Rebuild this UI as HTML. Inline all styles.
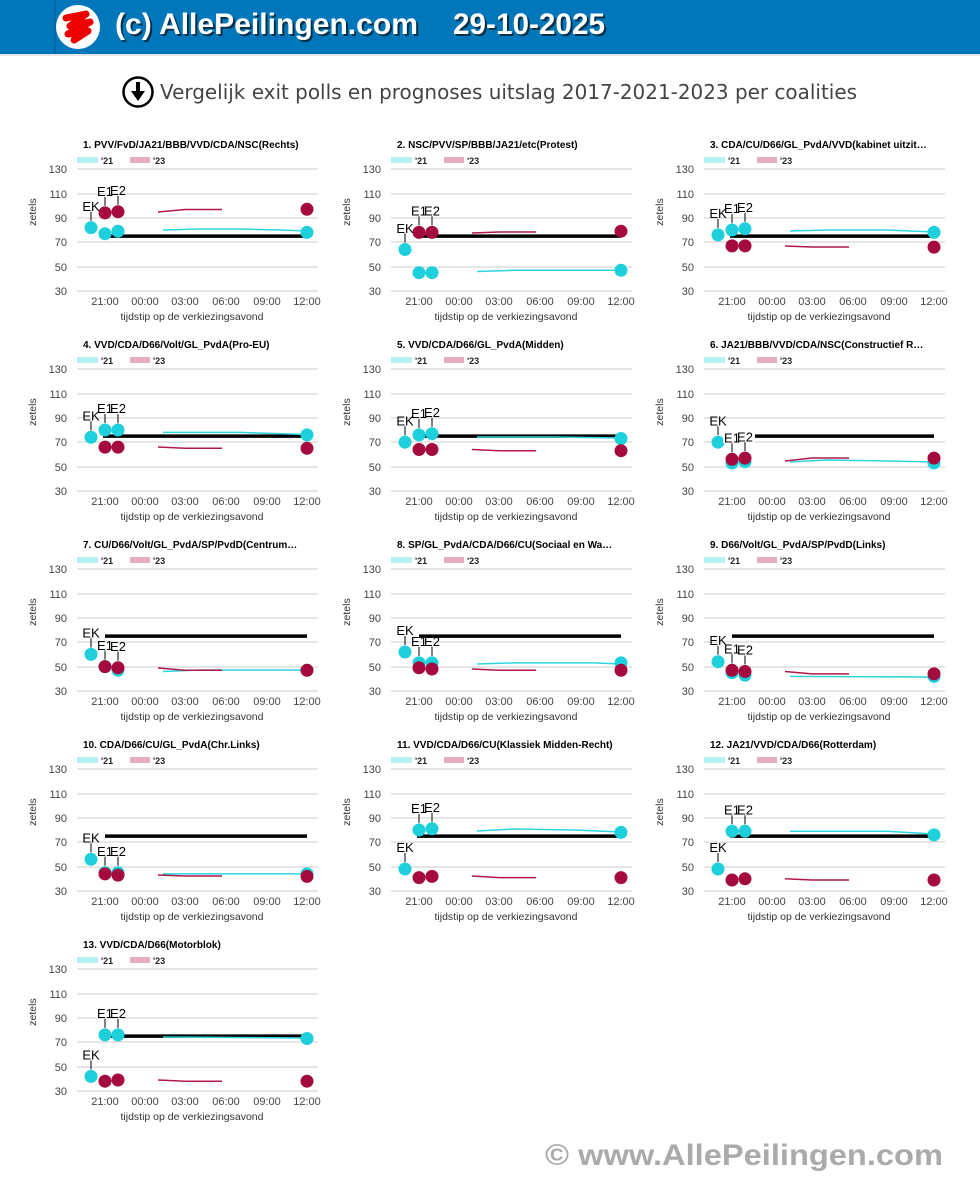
<!DOCTYPE html>
<html><head><meta charset="utf-8"><style>
html,body{margin:0;padding:0;background:#fff;width:980px;height:1177px;overflow:hidden}
svg text{font-family:"Liberation Sans","DejaVu Sans",sans-serif}
.t{font-size:10px;font-weight:bold;fill:#000}
.lg{font-size:9px;font-weight:bold;fill:#222}
.yl{font-size:11px;fill:#444;text-anchor:end}
.xl{font-size:11px;fill:#444;text-anchor:middle}
.at{font-size:10.5px;fill:#333;text-anchor:middle}
.lb{font-size:13px;fill:#000;text-anchor:middle}
.g{stroke:#ccc;stroke-width:1}
.c{fill:#1dd0dc}.r{fill:#a50a3f}
.l21{fill:none;stroke:#2dd5e0;stroke-width:1.5}
.l23{fill:none;stroke:#b0184c;stroke-width:1.5}
.bk{stroke:#000;stroke-width:3.5}
.ld{stroke:#000;stroke-width:1}
</style></head><body>
<svg width="980" height="1177" viewBox="0 0 980 1177" xmlns="http://www.w3.org/2000/svg">
<rect x="0" y="0" width="980" height="54" fill="#0077bb"/>
<rect x="0" y="54" width="980" height="2" fill="#e6e6e6"/>
<line x1="55" y1="0" x2="55" y2="54" stroke="#0a5a90"/>
<circle cx="78" cy="27" r="22" fill="#fff"/>
<path d="M66 18 L86 14 L70 26 L90 22 L68 34 L88 31 L74 40" fill="none" stroke="#ee0000" stroke-width="7" stroke-linejoin="round" stroke-linecap="round"/>
<g font-family="Liberation Sans, sans-serif" font-weight="bold" font-size="30">
<text x="117" y="36" fill="#000" opacity="0.6" textLength="303" lengthAdjust="spacingAndGlyphs">(c) AllePeilingen.com</text>
<text x="115" y="34" fill="#fff" textLength="303" lengthAdjust="spacingAndGlyphs">(c) AllePeilingen.com</text>
<text x="455" y="36" fill="#000" opacity="0.6" textLength="152" lengthAdjust="spacingAndGlyphs">29-10-2025</text>
<text x="453" y="34" fill="#fff" textLength="152" lengthAdjust="spacingAndGlyphs">29-10-2025</text>
</g>
<circle cx="138" cy="92" r="14.5" fill="#fff" stroke="#000" stroke-width="2.5"/>
<rect x="136" y="82" width="4" height="10" fill="#000"/>
<path d="M131 91 L145 91 L138 101 Z" fill="#000"/>
<text x="160" y="99" font-size="20" fill="#444" style="font-family:'DejaVu Sans',sans-serif" textLength="697" lengthAdjust="spacingAndGlyphs">Vergelijk exit polls en prognoses uitslag 2017-2021-2023 per coalities</text>

<defs>
<g id="ax">
<line class="g" x1="77" y1="169" x2="318" y2="169"/><line class="g" x1="77" y1="194" x2="318" y2="194"/><line class="g" x1="77" y1="218" x2="318" y2="218"/><line class="g" x1="77" y1="242" x2="318" y2="242"/><line class="g" x1="77" y1="267" x2="318" y2="267"/><line class="g" x1="77" y1="291" x2="318" y2="291"/>
<rect x="77" y="157" width="21" height="6" fill="#b5f0f4"/><rect x="130" y="157" width="20" height="6" fill="#e6adc2"/>
</g>
</defs>

<g id="c1">
<use href="#ax"/>
<text class="t" x="83" y="148">1. PVV/FvD/JA21/BBB/VVD/CDA/NSC(Rechts)</text>
<text class="lg" x="101" y="164">'21</text><text class="lg" x="153" y="164">'23</text>
<text class="yl" x="67" y="173">130</text><text class="yl" x="67" y="198">110</text><text class="yl" x="67" y="222">90</text><text class="yl" x="67" y="246">70</text><text class="yl" x="67" y="271">50</text><text class="yl" x="67" y="295">30</text>
<text class="xl" x="105" y="305">21:00</text><text class="xl" x="145" y="305">00:00</text><text class="xl" x="185" y="305">03:00</text><text class="xl" x="226" y="305">06:00</text><text class="xl" x="267" y="305">09:00</text><text class="xl" x="307" y="305">12:00</text>
<text class="at" x="192" y="320">tijdstip op de verkiezingsavond</text>
<text class="at" transform="translate(36,212) rotate(-90)">zetels</text>
<line class="bk" x1="103" y1="236.1" x2="307" y2="236.1"/>
<path class="l21" d="M163 230 L200 229 L240 229 L280 230 L307 231"/><path class="l23" d="M158 212 L185 209.5 L222 209.5"/>
<circle class="c" cx="91" cy="227.6" r="6.5"/><circle class="c" cx="105" cy="233.7" r="6.5"/><circle class="c" cx="118" cy="231.2" r="6.5"/><circle class="c" cx="307" cy="232.4" r="6.5"/>
<circle class="r" cx="105" cy="212.9" r="6.5"/><circle class="r" cx="118" cy="211.7" r="6.5"/><circle class="r" cx="307" cy="209.3" r="6.5"/>
<line class="ld" x1="91" y1="220.6" x2="91" y2="211.6"/><text class="lb" x="91" y="211">EK</text>
<line class="ld" x1="105" y1="205.9" x2="105" y2="196.9"/><text class="lb" x="105" y="196">E1</text>
<line class="ld" x1="118" y1="204.7" x2="118" y2="195.7"/><text class="lb" x="118" y="195">E2</text>
</g>

<g transform="translate(314,0)">
<use href="#ax"/>
<text class="t" x="83" y="148">2. NSC/PVV/SP/BBB/JA21/etc(Protest)</text>
<text class="lg" x="101" y="164">'21</text><text class="lg" x="153" y="164">'23</text>
<text class="yl" x="67" y="173">130</text><text class="yl" x="67" y="198">110</text><text class="yl" x="67" y="222">90</text><text class="yl" x="67" y="246">70</text><text class="yl" x="67" y="271">50</text><text class="yl" x="67" y="295">30</text>
<text class="xl" x="105" y="305">21:00</text><text class="xl" x="145" y="305">00:00</text><text class="xl" x="185" y="305">03:00</text><text class="xl" x="226" y="305">06:00</text><text class="xl" x="267" y="305">09:00</text><text class="xl" x="307" y="305">12:00</text>
<text class="at" x="192" y="320">tijdstip op de verkiezingsavond</text>
<text class="at" transform="translate(36,212) rotate(-90)">zetels</text>
<line class="bk" x1="103" y1="236.1" x2="307" y2="236.1"/>
<path class="l21" d="M163 271.5 L200 270.3 L307 270.3"/><path class="l23" d="M158 233 L185 232 L222 232"/>
<circle class="c" cx="91" cy="249.5" r="6.5"/><circle class="c" cx="105" cy="272.7" r="6.5"/><circle class="c" cx="118" cy="272.7" r="6.5"/><circle class="c" cx="307" cy="270.3" r="6.5"/>
<circle class="r" cx="105" cy="232.4" r="6.5"/><circle class="r" cx="118" cy="232.4" r="6.5"/><circle class="r" cx="307" cy="231.2" r="6.5"/>
<line class="ld" x1="91" y1="242.5" x2="91" y2="233.5"/><text class="lb" x="91" y="233">EK</text>
<line class="ld" x1="105" y1="225.4" x2="105" y2="216.4"/><text class="lb" x="105" y="215.5">E1</text>
<line class="ld" x1="118" y1="225.4" x2="118" y2="216.4"/><text class="lb" x="118" y="215.5">E2</text>
</g>

<g transform="translate(627,0)">
<use href="#ax"/>
<text class="t" x="83" y="148">3. CDA/CU/D66/GL_PvdA/VVD(kabinet uitzit…</text>
<text class="lg" x="101" y="164">'21</text><text class="lg" x="153" y="164">'23</text>
<text class="yl" x="67" y="173">130</text><text class="yl" x="67" y="198">110</text><text class="yl" x="67" y="222">90</text><text class="yl" x="67" y="246">70</text><text class="yl" x="67" y="271">50</text><text class="yl" x="67" y="295">30</text>
<text class="xl" x="105" y="305">21:00</text><text class="xl" x="145" y="305">00:00</text><text class="xl" x="185" y="305">03:00</text><text class="xl" x="226" y="305">06:00</text><text class="xl" x="267" y="305">09:00</text><text class="xl" x="307" y="305">12:00</text>
<text class="at" x="192" y="320">tijdstip op de verkiezingsavond</text>
<text class="at" transform="translate(36,212) rotate(-90)">zetels</text>
<line class="bk" x1="103" y1="236.1" x2="307" y2="236.1"/>
<path class="l21" d="M163 231 L200 230 L260 230 L307 232"/><path class="l23" d="M158 246 L185 247 L222 247"/>
<circle class="c" cx="91" cy="234.9" r="6.5"/><circle class="c" cx="105" cy="230" r="6.5"/><circle class="c" cx="118" cy="228.8" r="6.5"/><circle class="c" cx="307" cy="232.4" r="6.5"/>
<circle class="r" cx="105" cy="245.9" r="6.5"/><circle class="r" cx="118" cy="245.9" r="6.5"/><circle class="r" cx="307" cy="247.1" r="6.5"/>
<line class="ld" x1="91" y1="227.9" x2="91" y2="218.9"/><text class="lb" x="91" y="218">EK</text>
<line class="ld" x1="105" y1="223" x2="105" y2="214"/><text class="lb" x="105" y="213">E1</text>
<line class="ld" x1="118" y1="221.8" x2="118" y2="212.8"/><text class="lb" x="118" y="212">E2</text>
</g>

<g transform="translate(0,200)">
<use href="#ax"/>
<text class="t" x="83" y="148">4. VVD/CDA/D66/Volt/GL_PvdA(Pro-EU)</text>
<text class="lg" x="101" y="164">'21</text><text class="lg" x="153" y="164">'23</text>
<text class="yl" x="67" y="173">130</text><text class="yl" x="67" y="198">110</text><text class="yl" x="67" y="222">90</text><text class="yl" x="67" y="246">70</text><text class="yl" x="67" y="271">50</text><text class="yl" x="67" y="295">30</text>
<text class="xl" x="105" y="305">21:00</text><text class="xl" x="145" y="305">00:00</text><text class="xl" x="185" y="305">03:00</text><text class="xl" x="226" y="305">06:00</text><text class="xl" x="267" y="305">09:00</text><text class="xl" x="307" y="305">12:00</text>
<text class="at" x="192" y="320">tijdstip op de verkiezingsavond</text>
<text class="at" transform="translate(36,212) rotate(-90)">zetels</text>
<line class="bk" x1="103" y1="236.1" x2="307" y2="236.1"/>
<path class="l21" d="M163 232.4 L240 232.4 L307 234.5"/><path class="l23" d="M158 247 L185 248.3 L222 248.3"/>
<circle class="c" cx="91" cy="237.3" r="6.5"/><circle class="c" cx="105" cy="230" r="6.5"/><circle class="c" cx="118" cy="230" r="6.5"/><circle class="c" cx="307" cy="234.9" r="6.5"/>
<circle class="r" cx="105" cy="247.1" r="6.5"/><circle class="r" cx="118" cy="247.1" r="6.5"/><circle class="r" cx="307" cy="248.3" r="6.5"/>
<line class="ld" x1="91" y1="230.3" x2="91" y2="221.3"/><text class="lb" x="91" y="220.5">EK</text>
<line class="ld" x1="105" y1="223" x2="105" y2="214"/><text class="lb" x="105" y="213">E1</text>
<line class="ld" x1="118" y1="223" x2="118" y2="214"/><text class="lb" x="118" y="213">E2</text>
</g>

<g transform="translate(314,200)">
<use href="#ax"/>
<text class="t" x="83" y="148">5. VVD/CDA/D66/GL_PvdA(Midden)</text>
<text class="lg" x="101" y="164">'21</text><text class="lg" x="153" y="164">'23</text>
<text class="yl" x="67" y="173">130</text><text class="yl" x="67" y="198">110</text><text class="yl" x="67" y="222">90</text><text class="yl" x="67" y="246">70</text><text class="yl" x="67" y="271">50</text><text class="yl" x="67" y="295">30</text>
<text class="xl" x="105" y="305">21:00</text><text class="xl" x="145" y="305">00:00</text><text class="xl" x="185" y="305">03:00</text><text class="xl" x="226" y="305">06:00</text><text class="xl" x="267" y="305">09:00</text><text class="xl" x="307" y="305">12:00</text>
<text class="at" x="192" y="320">tijdstip op de verkiezingsavond</text>
<text class="at" transform="translate(36,212) rotate(-90)">zetels</text>
<line class="bk" x1="103" y1="236.1" x2="307" y2="236.1"/>
<path class="l21" d="M163 237 L240 237 L307 238"/><path class="l23" d="M158 249.5 L185 250.7 L222 250.7"/>
<circle class="c" cx="91" cy="242.2" r="6.5"/><circle class="c" cx="105" cy="234.9" r="6.5"/><circle class="c" cx="118" cy="233.7" r="6.5"/><circle class="c" cx="307" cy="238.5" r="6.5"/>
<circle class="r" cx="105" cy="249.5" r="6.5"/><circle class="r" cx="118" cy="249.5" r="6.5"/><circle class="r" cx="307" cy="250.7" r="6.5"/>
<line class="ld" x1="91" y1="235.2" x2="91" y2="226.2"/><text class="lb" x="91" y="225.5">EK</text>
<line class="ld" x1="105" y1="227.9" x2="105" y2="218.9"/><text class="lb" x="105" y="218">E1</text>
<line class="ld" x1="118" y1="226.7" x2="118" y2="217.7"/><text class="lb" x="118" y="217">E2</text>
</g>

<g transform="translate(627,200)">
<use href="#ax"/>
<text class="t" x="83" y="148">6. JA21/BBB/VVD/CDA/NSC(Constructief R…</text>
<text class="lg" x="101" y="164">'21</text><text class="lg" x="153" y="164">'23</text>
<text class="yl" x="67" y="173">130</text><text class="yl" x="67" y="198">110</text><text class="yl" x="67" y="222">90</text><text class="yl" x="67" y="246">70</text><text class="yl" x="67" y="271">50</text><text class="yl" x="67" y="295">30</text>
<text class="xl" x="105" y="305">21:00</text><text class="xl" x="145" y="305">00:00</text><text class="xl" x="185" y="305">03:00</text><text class="xl" x="226" y="305">06:00</text><text class="xl" x="267" y="305">09:00</text><text class="xl" x="307" y="305">12:00</text>
<text class="at" x="192" y="320">tijdstip op de verkiezingsavond</text>
<text class="at" transform="translate(36,212) rotate(-90)">zetels</text>
<line class="bk" x1="103" y1="236.1" x2="307" y2="236.1"/>
<path class="l21" d="M163 262 L200 260 L260 261 L307 262"/><path class="l23" d="M158 261 L185 258 L222 258"/>
<circle class="c" cx="91" cy="242.2" r="6.5"/><circle class="c" cx="105" cy="262.9" r="6.5"/><circle class="c" cx="118" cy="261.7" r="6.5"/><circle class="c" cx="307" cy="262.9" r="6.5"/>
<circle class="r" cx="105" cy="259.3" r="6.5"/><circle class="r" cx="118" cy="258.1" r="6.5"/><circle class="r" cx="307" cy="258.1" r="6.5"/>
<line class="ld" x1="91" y1="235.2" x2="91" y2="226.2"/><text class="lb" x="91" y="225.5">EK</text>
<rect x="96" y="229" width="32" height="14" fill="#fff"/>
<line class="ld" x1="105" y1="252.3" x2="105" y2="243.3"/><text class="lb" x="105" y="242.5">E1</text>
<line class="ld" x1="118" y1="251.1" x2="118" y2="242.1"/><text class="lb" x="118" y="241.5">E2</text>
</g>

<g transform="translate(0,400)">
<use href="#ax"/>
<text class="t" x="83" y="148">7. CU/D66/Volt/GL_PvdA/SP/PvdD(Centrum…</text>
<text class="lg" x="101" y="164">'21</text><text class="lg" x="153" y="164">'23</text>
<text class="yl" x="67" y="173">130</text><text class="yl" x="67" y="198">110</text><text class="yl" x="67" y="222">90</text><text class="yl" x="67" y="246">70</text><text class="yl" x="67" y="271">50</text><text class="yl" x="67" y="295">30</text>
<text class="xl" x="105" y="305">21:00</text><text class="xl" x="145" y="305">00:00</text><text class="xl" x="185" y="305">03:00</text><text class="xl" x="226" y="305">06:00</text><text class="xl" x="267" y="305">09:00</text><text class="xl" x="307" y="305">12:00</text>
<text class="at" x="192" y="320">tijdstip op de verkiezingsavond</text>
<text class="at" transform="translate(36,212) rotate(-90)">zetels</text>
<line class="bk" x1="105" y1="236.1" x2="307" y2="236.1"/>
<path class="l21" d="M163 271.5 L200 270 L307 270"/><path class="l23" d="M158 268 L185 270.3 L222 270.3"/>
<circle class="c" cx="91" cy="254.4" r="6.5"/><circle class="c" cx="105" cy="266.6" r="6.5"/><circle class="c" cx="118" cy="270.3" r="6.5"/><circle class="c" cx="307" cy="270.3" r="6.5"/>
<circle class="r" cx="105" cy="266.6" r="6.5"/><circle class="r" cx="118" cy="267.8" r="6.5"/><circle class="r" cx="307" cy="270.3" r="6.5"/>
<line class="ld" x1="91" y1="247.4" x2="91" y2="238.4"/><text class="lb" x="91" y="237.5">EK</text>
<line class="ld" x1="105" y1="259.6" x2="105" y2="250.6"/><text class="lb" x="105" y="250">E1</text>
<line class="ld" x1="118" y1="260.8" x2="118" y2="251.8"/><text class="lb" x="118" y="251">E2</text>
</g>

<g transform="translate(314,400)">
<use href="#ax"/>
<text class="t" x="83" y="148">8. SP/GL_PvdA/CDA/D66/CU(Sociaal en Wa…</text>
<text class="lg" x="101" y="164">'21</text><text class="lg" x="153" y="164">'23</text>
<text class="yl" x="67" y="173">130</text><text class="yl" x="67" y="198">110</text><text class="yl" x="67" y="222">90</text><text class="yl" x="67" y="246">70</text><text class="yl" x="67" y="271">50</text><text class="yl" x="67" y="295">30</text>
<text class="xl" x="105" y="305">21:00</text><text class="xl" x="145" y="305">00:00</text><text class="xl" x="185" y="305">03:00</text><text class="xl" x="226" y="305">06:00</text><text class="xl" x="267" y="305">09:00</text><text class="xl" x="307" y="305">12:00</text>
<text class="at" x="192" y="320">tijdstip op de verkiezingsavond</text>
<text class="at" transform="translate(36,212) rotate(-90)">zetels</text>
<line class="bk" x1="105" y1="236.1" x2="307" y2="236.1"/>
<path class="l21" d="M163 264 L200 262.9 L280 262.9 L307 264"/><path class="l23" d="M158 269 L185 270.3 L222 270.3"/>
<circle class="c" cx="91" cy="252" r="6.5"/><circle class="c" cx="105" cy="262.9" r="6.5"/><circle class="c" cx="118" cy="262.9" r="6.5"/><circle class="c" cx="307" cy="262.9" r="6.5"/>
<circle class="r" cx="105" cy="267.8" r="6.5"/><circle class="r" cx="118" cy="269" r="6.5"/><circle class="r" cx="307" cy="270.3" r="6.5"/>
<line class="ld" x1="91" y1="245" x2="91" y2="236"/><text class="lb" x="91" y="235">EK</text>
<line class="ld" x1="105" y1="255.9" x2="105" y2="246.9"/><text class="lb" x="105" y="246">E1</text>
<line class="ld" x1="118" y1="255.9" x2="118" y2="246.9"/><text class="lb" x="118" y="246">E2</text>
</g>

<g transform="translate(627,400)">
<use href="#ax"/>
<text class="t" x="83" y="148">9. D66/Volt/GL_PvdA/SP/PvdD(Links)</text>
<text class="lg" x="101" y="164">'21</text><text class="lg" x="153" y="164">'23</text>
<text class="yl" x="67" y="173">130</text><text class="yl" x="67" y="198">110</text><text class="yl" x="67" y="222">90</text><text class="yl" x="67" y="246">70</text><text class="yl" x="67" y="271">50</text><text class="yl" x="67" y="295">30</text>
<text class="xl" x="105" y="305">21:00</text><text class="xl" x="145" y="305">00:00</text><text class="xl" x="185" y="305">03:00</text><text class="xl" x="226" y="305">06:00</text><text class="xl" x="267" y="305">09:00</text><text class="xl" x="307" y="305">12:00</text>
<text class="at" x="192" y="320">tijdstip op de verkiezingsavond</text>
<text class="at" transform="translate(36,212) rotate(-90)">zetels</text>
<line class="bk" x1="105" y1="236.1" x2="307" y2="236.1"/>
<path class="l21" d="M163 276.4 L307 277"/><path class="l23" d="M158 271.5 L185 273.9 L222 273.9"/>
<circle class="c" cx="91" cy="261.7" r="6.5"/><circle class="c" cx="105" cy="272.7" r="6.5"/><circle class="c" cx="118" cy="275.1" r="6.5"/><circle class="c" cx="307" cy="276.4" r="6.5"/>
<circle class="r" cx="105" cy="270.3" r="6.5"/><circle class="r" cx="118" cy="271.5" r="6.5"/><circle class="r" cx="307" cy="273.9" r="6.5"/>
<line class="ld" x1="91" y1="254.7" x2="91" y2="245.7"/><text class="lb" x="91" y="245">EK</text>
<line class="ld" x1="105" y1="263.3" x2="105" y2="254.3"/><text class="lb" x="105" y="253.5">E1</text>
<line class="ld" x1="118" y1="264.5" x2="118" y2="255.5"/><text class="lb" x="118" y="254.5">E2</text>
</g>

<g transform="translate(0,600)">
<use href="#ax"/>
<text class="t" x="83" y="148">10. CDA/D66/CU/GL_PvdA(Chr.Links)</text>
<text class="lg" x="101" y="164">'21</text><text class="lg" x="153" y="164">'23</text>
<text class="yl" x="67" y="173">130</text><text class="yl" x="67" y="198">110</text><text class="yl" x="67" y="222">90</text><text class="yl" x="67" y="246">70</text><text class="yl" x="67" y="271">50</text><text class="yl" x="67" y="295">30</text>
<text class="xl" x="105" y="305">21:00</text><text class="xl" x="145" y="305">00:00</text><text class="xl" x="185" y="305">03:00</text><text class="xl" x="226" y="305">06:00</text><text class="xl" x="267" y="305">09:00</text><text class="xl" x="307" y="305">12:00</text>
<text class="at" x="192" y="320">tijdstip op de verkiezingsavond</text>
<text class="at" transform="translate(36,212) rotate(-90)">zetels</text>
<line class="bk" x1="105" y1="236.1" x2="307" y2="236.1"/>
<path class="l21" d="M163 273.9 L307 273.9"/><path class="l23" d="M158 275 L185 276 L222 276"/>
<circle class="c" cx="91" cy="259.3" r="6.5"/><circle class="c" cx="105" cy="272.7" r="6.5"/><circle class="c" cx="118" cy="272.7" r="6.5"/><circle class="c" cx="307" cy="273.9" r="6.5"/>
<circle class="r" cx="105" cy="273.9" r="6.5"/><circle class="r" cx="118" cy="275.1" r="6.5"/><circle class="r" cx="307" cy="276.4" r="6.5"/>
<line class="ld" x1="91" y1="252.3" x2="91" y2="243.3"/><text class="lb" x="91" y="242.5">EK</text>
<line class="ld" x1="105" y1="265.7" x2="105" y2="256.7"/><text class="lb" x="105" y="256">E1</text>
<line class="ld" x1="118" y1="265.7" x2="118" y2="256.7"/><text class="lb" x="118" y="256">E2</text>
</g>

<g transform="translate(314,600)">
<use href="#ax"/>
<text class="t" x="83" y="148">11. VVD/CDA/D66/CU(Klassiek Midden-Recht)</text>
<text class="lg" x="101" y="164">'21</text><text class="lg" x="153" y="164">'23</text>
<text class="yl" x="67" y="173">130</text><text class="yl" x="67" y="198">110</text><text class="yl" x="67" y="222">90</text><text class="yl" x="67" y="246">70</text><text class="yl" x="67" y="271">50</text><text class="yl" x="67" y="295">30</text>
<text class="xl" x="105" y="305">21:00</text><text class="xl" x="145" y="305">00:00</text><text class="xl" x="185" y="305">03:00</text><text class="xl" x="226" y="305">06:00</text><text class="xl" x="267" y="305">09:00</text><text class="xl" x="307" y="305">12:00</text>
<text class="at" x="192" y="320">tijdstip op de verkiezingsavond</text>
<text class="at" transform="translate(36,212) rotate(-90)">zetels</text>
<line class="bk" x1="103" y1="236.1" x2="307" y2="236.1"/>
<path class="l21" d="M163 231 L200 229 L260 230 L307 232"/><path class="l23" d="M158 276 L185 277.6 L222 277.6"/>
<circle class="c" cx="91" cy="269" r="6.5"/><circle class="c" cx="105" cy="230" r="6.5"/><circle class="c" cx="118" cy="228.8" r="6.5"/><circle class="c" cx="307" cy="232.4" r="6.5"/>
<circle class="r" cx="105" cy="277.6" r="6.5"/><circle class="r" cx="118" cy="276.4" r="6.5"/><circle class="r" cx="307" cy="277.6" r="6.5"/>
<line class="ld" x1="91" y1="262" x2="91" y2="253"/><text class="lb" x="91" y="252">EK</text>
<line class="ld" x1="105" y1="223" x2="105" y2="214"/><text class="lb" x="105" y="213">E1</text>
<line class="ld" x1="118" y1="221.8" x2="118" y2="212.8"/><text class="lb" x="118" y="212">E2</text>
</g>

<g transform="translate(627,600)">
<use href="#ax"/>
<text class="t" x="83" y="148">12. JA21/VVD/CDA/D66(Rotterdam)</text>
<text class="lg" x="101" y="164">'21</text><text class="lg" x="153" y="164">'23</text>
<text class="yl" x="67" y="173">130</text><text class="yl" x="67" y="198">110</text><text class="yl" x="67" y="222">90</text><text class="yl" x="67" y="246">70</text><text class="yl" x="67" y="271">50</text><text class="yl" x="67" y="295">30</text>
<text class="xl" x="105" y="305">21:00</text><text class="xl" x="145" y="305">00:00</text><text class="xl" x="185" y="305">03:00</text><text class="xl" x="226" y="305">06:00</text><text class="xl" x="267" y="305">09:00</text><text class="xl" x="307" y="305">12:00</text>
<text class="at" x="192" y="320">tijdstip op de verkiezingsavond</text>
<text class="at" transform="translate(36,212) rotate(-90)">zetels</text>
<line class="bk" x1="103" y1="236.1" x2="307" y2="236.1"/>
<path class="l21" d="M163 231.2 L260 231.2 L307 234"/><path class="l23" d="M158 278.8 L185 280 L222 280"/>
<circle class="c" cx="91" cy="269" r="6.5"/><circle class="c" cx="105" cy="231.2" r="6.5"/><circle class="c" cx="118" cy="231.2" r="6.5"/><circle class="c" cx="307" cy="234.9" r="6.5"/>
<circle class="r" cx="105" cy="280" r="6.5"/><circle class="r" cx="118" cy="278.8" r="6.5"/><circle class="r" cx="307" cy="280" r="6.5"/>
<line class="ld" x1="91" y1="262" x2="91" y2="253"/><text class="lb" x="91" y="252">EK</text>
<line class="ld" x1="105" y1="224.2" x2="105" y2="215.2"/><text class="lb" x="105" y="214.5">E1</text>
<line class="ld" x1="118" y1="224.2" x2="118" y2="215.2"/><text class="lb" x="118" y="214.5">E2</text>
</g>

<g transform="translate(0,800)">
<use href="#ax"/>
<text class="t" x="83" y="148">13. VVD/CDA/D66(Motorblok)</text>
<text class="lg" x="101" y="164">'21</text><text class="lg" x="153" y="164">'23</text>
<text class="yl" x="67" y="173">130</text><text class="yl" x="67" y="198">110</text><text class="yl" x="67" y="222">90</text><text class="yl" x="67" y="246">70</text><text class="yl" x="67" y="271">50</text><text class="yl" x="67" y="295">30</text>
<text class="xl" x="105" y="305">21:00</text><text class="xl" x="145" y="305">00:00</text><text class="xl" x="185" y="305">03:00</text><text class="xl" x="226" y="305">06:00</text><text class="xl" x="267" y="305">09:00</text><text class="xl" x="307" y="305">12:00</text>
<text class="at" x="192" y="320">tijdstip op de verkiezingsavond</text>
<text class="at" transform="translate(36,212) rotate(-90)">zetels</text>
<line class="bk" x1="103" y1="236.1" x2="307" y2="236.1"/>
<path class="l21" d="M163 237 L307 238"/><path class="l23" d="M158 280 L185 281.2 L222 281.2"/>
<circle class="c" cx="91" cy="276.4" r="6.5"/><circle class="c" cx="105" cy="234.9" r="6.5"/><circle class="c" cx="118" cy="234.9" r="6.5"/><circle class="c" cx="307" cy="238.5" r="6.5"/>
<circle class="r" cx="105" cy="281.2" r="6.5"/><circle class="r" cx="118" cy="280" r="6.5"/><circle class="r" cx="307" cy="281.2" r="6.5"/>
<line class="ld" x1="91" y1="269.4" x2="91" y2="260.4"/><text class="lb" x="91" y="259.5">EK</text>
<line class="ld" x1="105" y1="227.9" x2="105" y2="218.9"/><text class="lb" x="105" y="218">E1</text>
<line class="ld" x1="118" y1="227.9" x2="118" y2="218.9"/><text class="lb" x="118" y="218">E2</text>
</g>

<text x="545" y="1165" font-size="30" font-weight="bold" fill="#aaaaaa" font-family="Liberation Sans, sans-serif" textLength="398" lengthAdjust="spacingAndGlyphs">© www.AllePeilingen.com</text>
</svg>
</body></html>
